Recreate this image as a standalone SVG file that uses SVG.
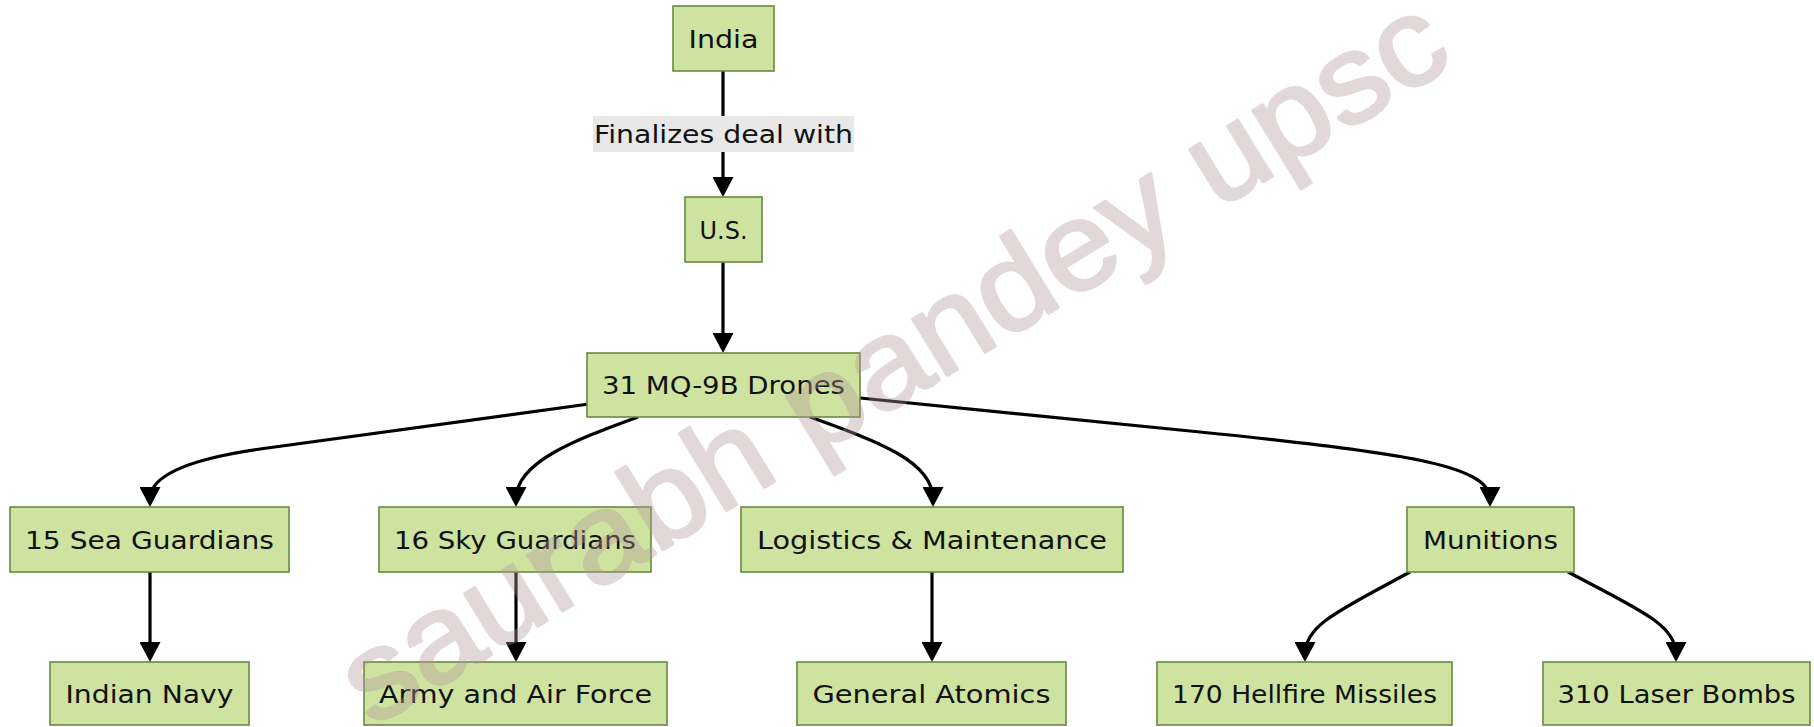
<svg xmlns="http://www.w3.org/2000/svg" width="1814" height="727" viewBox="0 0 1814 727">
<style>
.node rect{fill:#cfe3a1;stroke:#668a3f;stroke-width:1.6}
.node text,.elabel text{font-family:"DejaVu Sans","Open Sans",sans-serif;font-size:25px;fill:#111;text-anchor:middle}
.edge{fill:none;stroke:#000;stroke-width:3.2}
.wm{font-family:"Liberation Sans",Arial,sans-serif;font-size:125px;fill:#b4969b;stroke:#b4969b;stroke-width:3;stroke-linejoin:round}
</style>
<defs>
<marker id="arr" viewBox="0 0 20 21" markerWidth="20" markerHeight="21" refX="12" refY="10.5" markerUnits="userSpaceOnUse" orient="auto">
<path d="M0,0 L20,10.5 L0,21 z" fill="#000"/>
</marker>
</defs>
<rect width="1814" height="727" fill="#fff"/>
<g id="connectors">
<path class="edge" d="M723,71 L723,189" marker-end="url(#arr)"/>
<path class="edge" d="M723,262 L723,345" marker-end="url(#arr)"/>
<path class="edge" d="M589,404 L260,449 C190,459 150,475 150,499" marker-end="url(#arr)"/>
<path class="edge" d="M638,417 C575,440 516,462 516,499" marker-end="url(#arr)"/>
<path class="edge" d="M810,417 C880,442 933,462 933,499" marker-end="url(#arr)"/>
<path class="edge" d="M860,398 L1200,432 C1400,452 1490,465 1490,499" marker-end="url(#arr)"/>
<path class="edge" d="M150,572 L150,654" marker-end="url(#arr)"/>
<path class="edge" d="M516,572 L516,654" marker-end="url(#arr)"/>
<path class="edge" d="M932,572 L932,654" marker-end="url(#arr)"/>
<path class="edge" d="M1410,572 C1340,610 1305,625 1305,654" marker-end="url(#arr)"/>
<path class="edge" d="M1568,572 C1640,610 1676,625 1676,654" marker-end="url(#arr)"/>
<g class="elabel">
<rect x="593" y="116" width="261" height="36" fill="#e8e8e8"/>
<text x="723.5" y="143" textLength="259" lengthAdjust="spacingAndGlyphs">Finalizes deal with</text>
</g>
</g>
<g id="india" class="node"><rect x="673" y="6" width="101" height="65"/><text x="723.5" y="47.5" textLength="70" lengthAdjust="spacingAndGlyphs">India</text></g>
<g id="us" class="node"><rect x="685" y="197" width="77" height="65"/><text x="723.5" y="238.5" textLength="48" lengthAdjust="spacingAndGlyphs">U.S.</text></g>
<g id="drones" class="node"><rect x="587" y="353" width="273" height="64"/><text x="723.5" y="394" textLength="243" lengthAdjust="spacingAndGlyphs">31 MQ-9B Drones</text></g>
<g id="sea" class="node"><rect x="10" y="507" width="279" height="65"/><text x="149.5" y="548.5" textLength="249" lengthAdjust="spacingAndGlyphs">15 Sea Guardians</text></g>
<g id="sky" class="node"><rect x="379" y="507" width="272" height="65"/><text x="515" y="548.5" textLength="242" lengthAdjust="spacingAndGlyphs">16 Sky Guardians</text></g>
<g id="logistics" class="node"><rect x="741" y="507" width="382" height="65"/><text x="932" y="548.5" textLength="350" lengthAdjust="spacingAndGlyphs">Logistics &amp; Maintenance</text></g>
<g id="munitions" class="node"><rect x="1407" y="507" width="167" height="65"/><text x="1490.5" y="548.5" textLength="135" lengthAdjust="spacingAndGlyphs">Munitions</text></g>
<g id="navy" class="node"><rect x="50" y="662" width="199" height="63"/><text x="149.5" y="702.5" textLength="168" lengthAdjust="spacingAndGlyphs">Indian Navy</text></g>
<g id="army" class="node"><rect x="364" y="662" width="303" height="63"/><text x="515.5" y="702.5" textLength="273" lengthAdjust="spacingAndGlyphs">Army and Air Force</text></g>
<g id="general" class="node"><rect x="797" y="662" width="269" height="63"/><text x="931.5" y="702.5" textLength="238" lengthAdjust="spacingAndGlyphs">General Atomics</text></g>
<g id="hellfire" class="node"><rect x="1157" y="662" width="295" height="63"/><text x="1304.5" y="702.5" textLength="265" lengthAdjust="spacingAndGlyphs">170 Hellfire Missiles</text></g>
<g id="laser" class="node"><rect x="1543" y="662" width="267" height="63"/><text x="1676.5" y="702.5" textLength="238" lengthAdjust="spacingAndGlyphs">310 Laser Bombs</text></g>
<g opacity="0.37"><text class="wm" transform="translate(372,728) rotate(-31.5)" x="0" y="0" textLength="1272" lengthAdjust="spacingAndGlyphs">saurabh pandey upsc</text></g>
</svg>
